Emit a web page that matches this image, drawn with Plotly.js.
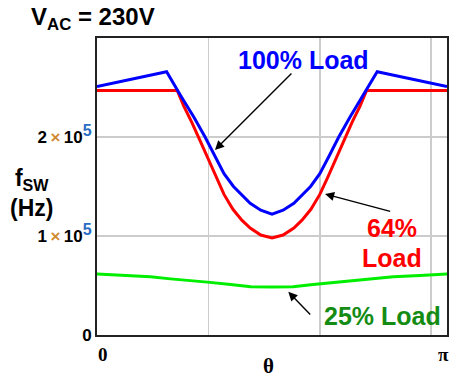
<!DOCTYPE html>
<html>
<head>
<meta charset="utf-8">
<script src="https://cdn.plot.ly/plotly-3.0.1.min.js"></script>
<style>html,body{margin:0;padding:0;background:#fff;}#chart{width:450px;height:377px;}</style>
</head>
<body>
<div id="chart"></div>
<script>
// θ in radians, switching frequency in Hz
const thetaBlue = [0, 0.625, 0.75, 0.87, 0.97, 1.06, 1.14, 1.225, 1.375, 1.47, 1.571, 1.67, 1.767, 1.917, 2.0, 2.08, 2.17, 2.27, 2.39, 2.515, Math.PI];
const fBlue     = [251000, 266000, 242000, 220000, 200000, 180000, 163000, 150000, 133000, 126000, 122000, 126000, 133000, 150000, 163000, 180000, 200000, 220000, 242000, 266000, 251000];

const thetaRed = [0, 0.72, 0.78, 0.85, 0.93, 1.0, 1.07, 1.14, 1.22, 1.30, 1.375, 1.47, 1.571, 1.67, 1.767, 1.84, 1.92, 2.0, 2.07, 2.14, 2.21, 2.29, 2.36, 2.42, Math.PI];
const fRed     = [247000, 247000, 231000, 215000, 195000, 177000, 159000, 142000, 127000, 116000, 108000, 101000, 98000, 101000, 108000, 116000, 127000, 142000, 159000, 177000, 195000, 215000, 231000, 247000, 247000];

const thetaGreen = [0, 0.24, 0.48, 0.66, 0.81, 0.99, 1.20, 1.38, 1.571, 1.76, 1.94, 2.15, 2.33, 2.48, 2.66, 2.90, Math.PI];
const fGreen     = [61500, 60100, 58800, 56700, 55400, 53400, 51000, 48800, 48500, 48800, 51000, 53400, 55400, 56700, 58800, 60100, 61500];

const xTickVals = [0, Math.PI];
const xTickText = ['0', 'π'];
const xGridVals = [1, 2, 3];
const yTickVals = [0, 100000, 200000];
const yTickText = [
  '<b>0</b>',
  '<b>1\u2009<span style="color:#d08a30">×</span>\u200910<sup><span style="color:#2a6cc4;font-size:16px">5</span></sup></b>',
  '<b>2\u2009<span style="color:#d08a30">×</span>\u200910<sup><span style="color:#2a6cc4;font-size:16px">5</span></sup></b>'
];

const traces = [
  {x: thetaGreen, y: fGreen, mode: 'lines', line: {color: '#00ee00', width: 3}, hoverinfo: 'skip'},
  {x: thetaRed, y: fRed, mode: 'lines', line: {color: '#ff0000', width: 3}, hoverinfo: 'skip'},
  {x: thetaBlue, y: fBlue, mode: 'lines', line: {color: '#0000ff', width: 3}, hoverinfo: 'skip'}
];

const sans = 'Liberation Sans, Arial, sans-serif';
const serif = 'Liberation Serif, Times New Roman, serif';
const arrow = {showarrow: true, arrowhead: 2, arrowsize: 1.3, arrowwidth: 1.4, arrowcolor: '#000', standoff: 0, startstandoff: 0, text: '', xref: 'x', yref: 'y', axref: 'x', ayref: 'y'};

const xTickAnn = xTickVals.map((v, i) => ({
  xref: 'x', yref: 'paper', x: v, y: -0.022, yanchor: 'top',
  xanchor: i === 0 ? 'left' : 'right', xshift: i === 0 ? -1 : 4, showarrow: false,
  text: '<b>' + xTickText[i] + '</b>', font: {family: serif, size: 19, color: '#000'}
}));

const layout = {
  width: 450, height: 377,
  margin: {l: 97, r: 3, t: 38, b: 42, pad: 0},
  paper_bgcolor: '#fff', plot_bgcolor: '#fff',
  showlegend: false,
  xaxis: {
    range: [0, Math.PI], tickmode: 'array', tickvals: xTickVals, showticklabels: false,
    showgrid: false, zeroline: false, ticks: '',
    showline: true, linecolor: '#222', linewidth: 2, mirror: true,
    minor: {tickmode: 'array', tickvals: xGridVals, showgrid: true, gridcolor: '#cccccc', gridwidth: 1.5, ticks: ''}
  },
  yaxis: {
    range: [0, 300000], tickmode: 'array', tickvals: yTickVals, ticktext: yTickText,
    showgrid: true, gridcolor: '#cccccc', gridwidth: 1.5, zeroline: false, ticks: '',
    showline: true, linecolor: '#222', linewidth: 2, mirror: true,
    tickfont: {family: sans, size: 17, color: '#000'}
  },
  annotations: xTickAnn.concat([
    {xref: 'paper', yref: 'paper', x: -0.195, y: 1.065, xanchor: 'left', yanchor: 'middle', showarrow: false,
     text: '<b>V<sub>AC</sub> = 230V</b>', font: {family: sans, size: 24, color: '#000'}},
    {xref: 'paper', yref: 'paper', x: -0.186, y: 0.478, xanchor: 'center', yanchor: 'middle', showarrow: false,
     text: '<b>f<sub>SW</sub><br>(Hz)</b>', font: {family: sans, size: 23, color: '#000'}},
    {xref: 'paper', yref: 'paper', x: 0.49, y: -0.058, xanchor: 'center', yanchor: 'top', showarrow: false,
     text: '<b>θ</b>', font: {family: serif, size: 21, color: '#000'}},
    {xref: 'paper', yref: 'paper', x: 0.59, y: 0.925, xanchor: 'center', yanchor: 'middle', showarrow: false,
     text: '<b>100% Load</b>', font: {family: sans, size: 25, color: '#0000ff'}},
    {xref: 'paper', yref: 'paper', x: 0.842, y: 0.36, xanchor: 'center', yanchor: 'middle', showarrow: false,
     text: '<b>64%</b>', font: {family: sans, size: 25, color: '#ff0000'}},
    {xref: 'paper', yref: 'paper', x: 0.842, y: 0.258, xanchor: 'center', yanchor: 'middle', showarrow: false,
     text: '<b>Load</b>', font: {family: sans, size: 25, color: '#ff0000'}},
    {xref: 'paper', yref: 'paper', x: 0.815, y: 0.064, xanchor: 'center', yanchor: 'middle', showarrow: false,
     text: '<b>25% Load</b>', font: {family: sans, size: 25, color: '#148c14'}},
    Object.assign({}, arrow, {x: 1.059, y: 186900, ax: 1.759, ay: 265700}),
    Object.assign({}, arrow, {x: 2.047, y: 142400, ax: 2.645, ay: 124500}),
    Object.assign({}, arrow, {x: 1.717, y: 43700, ax: 1.927, ay: 19200})
  ])
};

Plotly.newPlot('chart', traces, layout, {staticPlot: true, displayModeBar: false});
</script>
</body>
</html>
